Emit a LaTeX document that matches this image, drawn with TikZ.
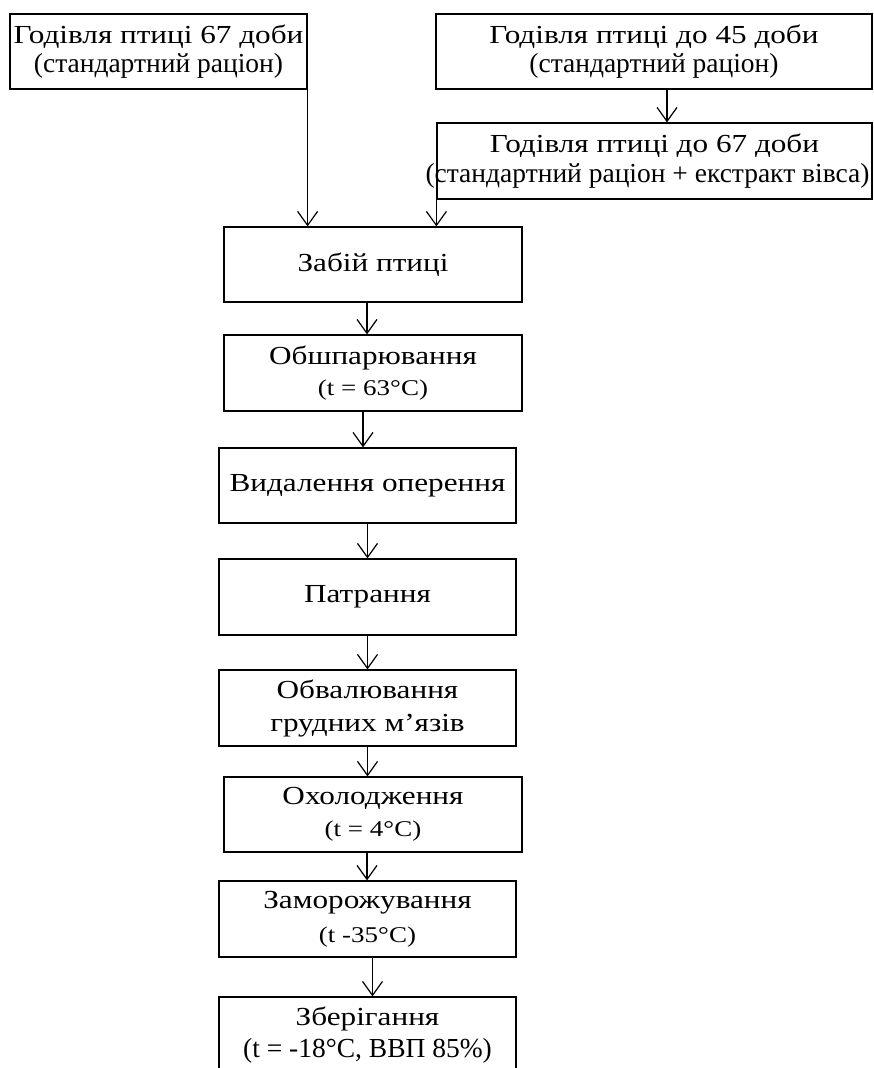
\documentclass[tikz,border=0pt]{standalone}
\usepackage{fontspec}
\setmainfont{Liberation Serif}
\newfontfamily\widefont[FakeStretch=1.2]{Liberation Serif}
\usetikzlibrary{arrows.meta}
\tikzset{
  box/.style={draw, line width=1.2pt, inner sep=0pt, align=center,
    font=\widefont\fontsize{26}{30}\selectfont},
  arr/.style={line width=1.2pt, -{Straight Barb[length=14pt,width=20pt,line width=1.2pt]}},
}
\newcommand{\sub}[1]{{\rmfamily\fontsize{27.5}{30}\selectfont #1}}
\newcommand{\wsub}[1]{{\widefont\fontsize{22.5}{30}\selectfont #1}}
\begin{document}
\begin{tikzpicture}[x=1pt,y=-1pt]
\useasboundingbox (0,0) rectangle (874,1068);
% top row
\node[box, minimum width=297, minimum height=75, font=\widefont\fontsize{26}{29}\selectfont] (A) at (158.5,51.5)
  {\makebox[0pt]{Годівля птиці 67 доби}\\\sub{(стандартний раціон)}};
\node[box, minimum width=436, minimum height=75, font=\widefont\fontsize{26}{29}\selectfont] (B) at (654,51.5)
  {Годівля птиці до 45 доби\\\sub{(стандартний раціон)}};
\node[box, minimum width=435, minimum height=76, font=\widefont\fontsize{26}{30}\selectfont] (C) at (654.5,161)
  {\makebox[0pt]{Годівля птиці до 67 доби}\\\makebox[0pt]{\hspace*{-14pt}\sub{(стандартний раціон + екстракт вівса)}}};
% process chain
\node[box, minimum width=298, minimum height=75] (D) at (373,264.5) {Забій птиці};
\node[box, minimum width=298, minimum height=76, font=\widefont\fontsize{26}{31}\selectfont] (E) at (373,373)
  {Обшпарювання\\\wsub{(t = 63°C)}};
\node[box, minimum width=297, minimum height=75] (F) at (367.5,485.5) {\makebox[0pt]{Видалення оперення}};
\node[box, minimum width=297, minimum height=76] (G) at (367.5,597) {Патрання};
\node[box, minimum width=297, minimum height=76, font=\widefont\fontsize{26}{33}\selectfont] (H) at (367.5,708)
  {Обвалювання\\грудних м’язів};
\node[box, minimum width=298, minimum height=75, font=\widefont\fontsize{26}{32}\selectfont] (I) at (373,814.5)
  {Охолодження\\\wsub{(t = 4°C)}};
\node[box, minimum width=297, minimum height=76, font=\widefont\fontsize{26}{34}\selectfont] (J) at (367.5,919)
  {Заморожування\\\wsub{(t -35°C)}};
\node[box, minimum width=297, minimum height=77, font=\widefont\fontsize{26}{32}\selectfont] (K) at (367.5,1035.5)
  {Зберігання\\\sub{(t = -18°C, ВВП 85\%)}};
% connectors
\draw[arr] (A.south east) -- (A.south east |- D.north);
\draw[arr] (C.south west) -- (C.south west |- D.north);
\draw[arr] ([xshift=13pt]B.south) -- ([xshift=13pt]B.south |- C.north);
\draw[arr] ([xshift=-6pt]D.south) -- ([xshift=-6pt]D.south |- E.north);
\draw[arr] ([xshift=-10pt]E.south) -- ([xshift=-10pt]E.south |- F.north);
\draw[arr] (F.south) -- (G.north);
\draw[arr] (G.south) -- (H.north);
\draw[arr] (H.south) -- (H.south |- I.north);
\draw[arr] ([xshift=-6pt]I.south) -- ([xshift=-6pt]I.south |- J.north);
\draw[arr] ([xshift=5pt]J.south) -- ([xshift=5pt]J.south |- K.north);
\end{tikzpicture}
\end{document}
